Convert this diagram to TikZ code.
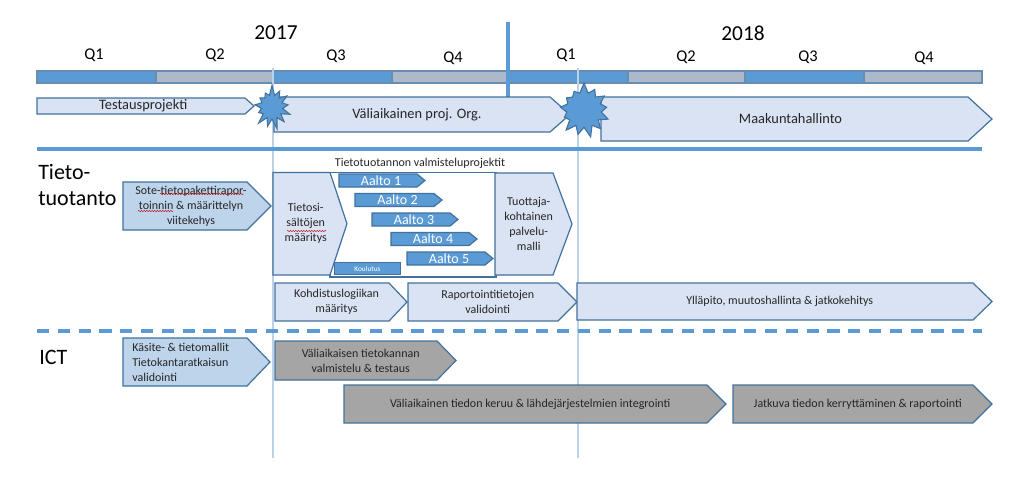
\documentclass[tikz,border=0pt]{standalone}
\usepackage{fontspec}
\setmainfont{Carlito}
\usetikzlibrary{shapes.geometric,shapes.symbols,decorations.pathmorphing}
\definecolor{mainc}{HTML}{5B9BD5}
\definecolor{edgec}{HTML}{41719C}
\definecolor{softbg}{HTML}{DAE3F3}
\definecolor{midbg}{HTML}{BDD4EB}
\definecolor{greybg}{HTML}{A5A5A5}
\definecolor{barbg}{HTML}{ADB9CA}
\definecolor{thinc}{HTML}{BBD2E9}
\tikzset{
  pbox/.style={draw=edgec,line width=0.9pt,fill=softbg},
  mbox/.style={draw=edgec,line width=0.9pt,fill=midbg},
  gbox/.style={draw=edgec,line width=0.9pt,fill=greybg},
  bbox/.style={draw=edgec,line width=0.9pt,fill=mainc},
  lbl/.style={align=center,inner sep=0pt,font=\fontsize{9}{11.2}\selectfont,text=black!85},
  biglbl/.style={lbl,font=\fontsize{10.8}{12}\selectfont},
  qlbl/.style={inner sep=0pt,font=\fontsize{12.3}{14}\selectfont},
  yrlbl/.style={inner sep=0pt,font=\fontsize{16}{18}\selectfont},
  sect/.style={align=left,inner sep=0pt,font=\fontsize{16.5}{19}\selectfont},
  blast/.style={starburst,starburst points=13,starburst point height=8pt,random starburst=7,draw=edgec,line width=0.8pt,fill=mainc,inner sep=0pt},
  wavy/.style={red!75!black,line width=0.35pt,decorate,decoration={snake,amplitude=0.4pt,segment length=2pt}}
}
\begin{document}
\begin{tikzpicture}[x=0.75pt,y=-0.75pt]
\useasboundingbox (0,0) rectangle (1024,482);
% quarters
\foreach \xa/\xb/\c in {37/156/mainc,156/273/barbg,273/392/mainc,392/509/barbg,509/628/mainc,628/745/barbg,745/864/mainc,864/982/barbg}{
 \draw[draw=edgec!80,line width=0.8pt,fill=\c] (\xa,71) rectangle (\xb,83);}
\foreach \nm/\x/\y/\t in {qa/94/55/Q1,qb/215/55/Q2,qc/336/56/Q3,qd/453/58/Q4,qe/566/55/Q1,qf/686/57/Q2,qg/808/57/Q3,qh/924/58/Q4}{
 \node[qlbl] (\nm) at (\x,\y) {\t};}
\node[yrlbl] (yra) at (276,33) {2017};
\node[yrlbl] (yrb) at (743,33) {2018};
% guide lines
\draw[thinc,line width=0.8pt] (273,68)--(273,458);
\draw[thinc,line width=0.8pt] (578,68)--(578,458);
\draw[mainc,line width=2.4pt] (508,22)--(508,98);
\draw[mainc,line width=2.4pt] (37,149)--(982,149);
\draw[mainc,line width=2.6pt,dash pattern=on 9.2pt off 6.4pt] (37,331)--(982,331);
% white frame
\draw[edgec,line width=0.9pt,fill=white] (330,172.5) rectangle (496,277);
% arrows
\foreach \nm/\xa/\xb/\xc/\ya/\yb/\st/\lb/\txt in {
 test/37/245/254/98/114/pbox/biglbl/{Testausprojekti},
 valiorg/274/550/570/97/132/pbox/biglbl/{Väliaikainen proj. Org.},
 maak/601/968/992/97/141/pbox/biglbl/{Maakuntahallinto},
 sote/123/247/271/182/230/mbox/lbl/{Sote-tietopakettirapor-\\toinnin \& määrittelyn\\viitekehys},
 sisal/273/330/347/172.5/275/pbox/lbl/{Tietosi-\\sältöjen\\määritys},
 tuot/495/553/572/173/275/pbox/lbl/{Tuottaja-\\kohtainen\\palvelu-\\malli},
 kohd/275/389/407/283/321/pbox/lbl/{Kohdistuslogiikan\\määritys},
 rap/408/558/577/283/321/pbox/lbl/{Raportointitietojen\\validointi},
 yll/577/973/992/283/320/pbox/lbl/{Ylläpito, muutoshallinta \& jatkokehitys},
 valik/275/437/456/341/380/gbox/lbl/{Väliaikaisen tietokannan\\valmistelu \& testaus},
 keruu/344/707/726/385/423/gbox/lbl/{Väliaikainen tiedon keruu \& lähdejärjestelmien integrointi},
 jatk/733/973/992/385/423/gbox/lbl/{Jatkuva tiedon kerryttäminen \& raportointi}}{
 \draw[\st] (\xa,\ya)--(\xb,\ya)--(\xc,{(\ya+\yb)/2})--(\xb,\yb)--(\xa,\yb)--cycle;
 \node[\lb] (\nm) at ({(\xa+(\xb+\xc)/2)/2},{(\ya+\yb)/2}) {\txt};}
\draw[mbox] (123,338)--(247,338)--(270,362)--(247,386)--(123,386)--cycle;
\node[lbl,align=left,anchor=west] (kasite) at (132,362) {Käsite- \& tietomallit\\Tietokantaratkaisun\\validointi};
% waves
\foreach \xa/\xb/\k in {339/417/1,355/434/2,372/450/3,391/469/4,407/485/5}{
 \pgfmathsetmacro{\ya}{174+19.5*(\k-1)}
 \draw[bbox] (\xa,\ya)--(\xb,\ya)--({\xb+8},{\ya+6.5})--(\xb,{\ya+13})--(\xa,{\ya+13})--cycle;
 \node[lbl,text=white,font=\fontsize{10.5}{12}\selectfont] (aalto\k) at ({(\xa+\xb+8)/2-1},{\ya+6.5}) {Aalto \k};}
\node[bbox,minimum width=50pt,minimum height=9.5pt,inner sep=0pt,text=white,font=\fontsize{5.5}{6}\selectfont] (koul) at (367.5,268.5) {Koulutus};
\node[lbl] (valm) at (420,163) {Tietotuotannon valmisteluprojektit};
\node[sect,anchor=north west] (tieto) at (38,164.5) {Tieto-\\tuotanto};
\node[sect,anchor=west] (ict) at (39,357) {ICT};
\node[blast,minimum width=32pt,minimum height=34pt] (boma) at (272,107) {};
\node[blast,minimum width=42pt,minimum height=42pt] (bomb) at (584,110) {};
% spell marks
\draw[wavy] (160,194)--(244,194);
\draw[wavy] (138,211)--(173,211);
\draw[wavy] (287,231)--(326,231);
\end{tikzpicture}
\end{document}
